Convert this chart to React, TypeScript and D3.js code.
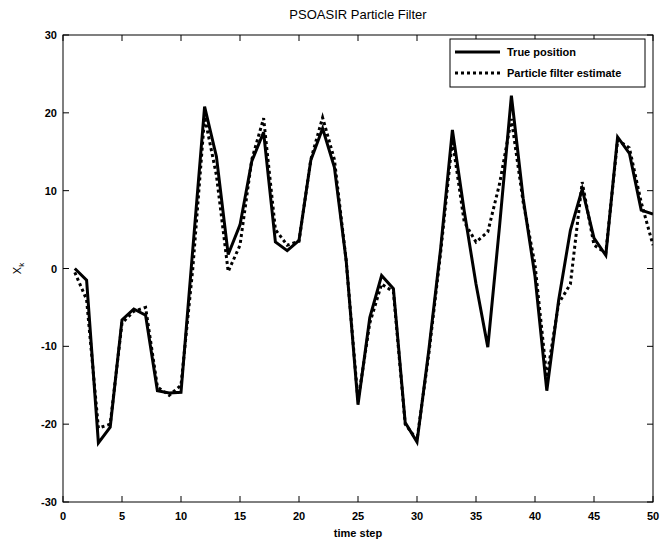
import React from 'react';
import * as d3 from 'd3';

// data
const steps = d3.range(1, 51);
const truePosition = [
  0, -1.5, -22.4, -20.4, -6.6, -5.2, -6.0, -15.7, -16.0, -15.9,
  2.5, 20.8, 14.4, 1.8, 5.6, 13.8, 17.5, 3.4, 2.3, 3.6,
  13.9, 18.0, 13.0, 1.0, -17.5, -6.3, -0.9, -2.6, -19.8, -22.3,
  -10.5, 2.5, 17.8, 7.4, -2.0, -10.1, 5.5, 22.2, 9.0, -1.0,
  -15.7, -4.1, 4.9, 10.2, 3.9, 1.7, 16.9, 14.8, 7.5, 7.0,
];
const estimate = [
  -0.5, -4.0, -20.5, -20.0, -7.0, -5.5, -5.0, -15.2, -16.3, -15.0,
  0.0, 19.5, 12.0, -0.4, 3.0, 14.0, 19.3, 5.0, 3.0, 3.5,
  14.0, 19.4, 14.0, 1.0, -17.0, -7.0, -2.0, -3.0, -20.0, -22.0,
  -11.0, 2.0, 16.5, 6.0, 3.4, 4.7, 10.9, 19.2, 8.5, 0.5,
  -14.0, -4.5, -2.0, 11.1, 3.0, 2.0, 16.5, 15.5, 8.5, 3.0,
];
const xTicks = d3.range(0, 51, 5);
const yTicks = d3.range(-30, 31, 10);
const series = [
  { name: 'True position', values: truePosition, dash: null },
  { name: 'Particle filter estimate', values: estimate, dash: '3,3' },
];

export default function App() {
  const width = 661;
  const height = 542;
  const margin = { top: 35, right: 8, bottom: 40, left: 63 };
  const innerWidth = 653 - margin.left;
  const innerHeight = 502 - margin.top;

  const x = d3.scaleLinear().domain([0, 50]).range([0, innerWidth]);
  const y = d3.scaleLinear().domain([-30, 30]).range([innerHeight, 0]);
  const line = d3
    .line<number>()
    .x((_, i) => x(steps[i]))
    .y((d) => y(d));

  const font = 'Arial, "Liberation Sans", sans-serif';
  const tickLen = 6;

  return (
    <svg
      width={width}
      height={height}
      style={{ position: 'absolute', left: 0, top: 0, background: '#fff' }}
      fontFamily={font}
    >
      <text x={margin.left + innerWidth / 2} y={19} textAnchor="middle" fontSize={13}>
        PSOASIR Particle Filter
      </text>
      <g transform={`translate(${margin.left},${margin.top})`}>
        <defs>
          <clipPath id="plot-clip">
            <rect x={0} y={0} width={innerWidth} height={innerHeight} />
          </clipPath>
        </defs>
        {series.map((s) => (
          <path
            key={s.name}
            d={line(s.values) || ''}
            fill="none"
            stroke="#000"
            strokeWidth={3}
            strokeDasharray={s.dash || undefined}
            strokeLinejoin="miter"
            clipPath="url(#plot-clip)"
          />
        ))}
        <rect x={0} y={0} width={innerWidth} height={innerHeight} fill="none" stroke="#000" strokeWidth={1} />
        {xTicks.map((t) => (
          <g key={'x' + t}>
            <line x1={x(t)} x2={x(t)} y1={innerHeight} y2={innerHeight - tickLen} stroke="#000" />
            <line x1={x(t)} x2={x(t)} y1={0} y2={tickLen} stroke="#000" />
            <text x={x(t)} y={innerHeight + 18} textAnchor="middle" fontSize={11} fontWeight="bold">
              {t}
            </text>
          </g>
        ))}
        {yTicks.map((t) => (
          <g key={'y' + t}>
            <line x1={0} x2={tickLen} y1={y(t)} y2={y(t)} stroke="#000" />
            <line x1={innerWidth} x2={innerWidth - tickLen} y1={y(t)} y2={y(t)} stroke="#000" />
            <text x={-6} y={y(t) + 4} textAnchor="end" fontSize={11} fontWeight="bold">
              {t}
            </text>
          </g>
        ))}
        <text x={innerWidth / 2} y={innerHeight + 35} textAnchor="middle" fontSize={11} fontWeight="bold">
          time step
        </text>
        <text transform={`translate(-42,${innerHeight / 2}) rotate(-90)`} textAnchor="middle" fontSize={11}>
          X<tspan fontSize={8} dy={3}>k</tspan>
        </text>
        <g transform={`translate(${450 - margin.left},${39 - margin.top})`}>
          <rect x={0} y={0} width={195} height={48} fill="#fff" stroke="#000" strokeWidth={1} />
          {series.map((s, i) => (
            <g key={s.name} transform={`translate(0,${13 + i * 21})`}>
              <line
                x1={5}
                x2={50}
                y1={0}
                y2={0}
                stroke="#000"
                strokeWidth={3}
                strokeDasharray={s.dash || undefined}
              />
              <text x={57} y={4} fontSize={11} fontWeight="bold">
                {s.name}
              </text>
            </g>
          ))}
        </g>
      </g>
    </svg>
  );
}
